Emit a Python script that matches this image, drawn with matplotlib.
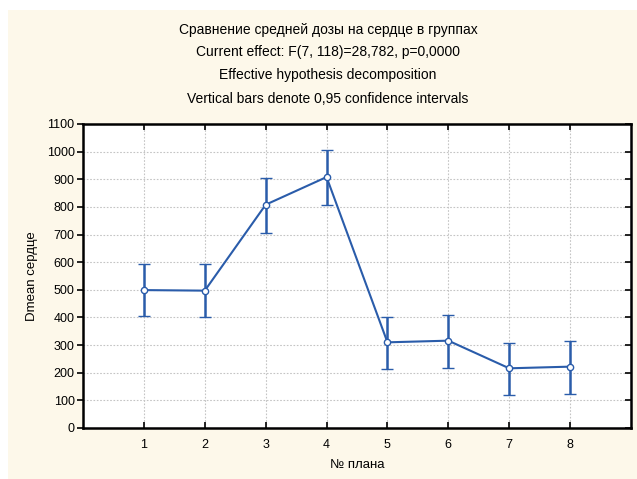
import matplotlib
matplotlib.use("Agg")
import matplotlib.pyplot as plt
from matplotlib.patches import Rectangle
import numpy as np

plt.rcParams['font.family'] = ['Liberation Sans', 'DejaVu Sans']

plans = [1, 2, 3, 4, 5, 6, 7, 8]
means = [499, 497, 808, 908, 310, 316, 216, 222]
lower = [404, 401, 707, 808, 213, 218, 119, 124]
upper = [593, 592, 905, 1005, 402, 409, 309, 316]

titles = [
    "Сравнение средней дозы на сердце в группах",
    "Current effect: F(7, 118)=28,782, p=0,0000",
    "Effective hypothesis decomposition",
    "Vertical bars denote 0,95 confidence intervals",
]

W, H = 637, 479
fig = plt.figure(figsize=(W / 100, H / 100), dpi=100)
fig.patch.set_facecolor("white")
fig.patches.append(Rectangle((8 / W, 0), 1, (H - 10) / H, transform=fig.transFigure,
                             facecolor="#fdf8ea", edgecolor="none", zorder=-10))

ax = fig.add_axes([83 / W, (H - 428) / H, (631 - 83) / W, (428 - 124) / H])
ax.set_facecolor("white")

m = np.array(means)
yerr = [m - np.array(lower), np.array(upper) - m]
blue = "#2a5caa"
ax.errorbar(plans, means, yerr=yerr, color=blue, lw=1.5, elinewidth=1.8,
            capsize=4.5, capthick=1.8, marker="o", markersize=4.5,
            markerfacecolor="white", markeredgecolor=blue, markeredgewidth=1.0,
            zorder=3)

ax.set_xlim(0, 9)
ax.set_ylim(0, 1100)
ax.set_xticks(plans)
ax.set_yticks(range(0, 1101, 100))
ax.grid(True, color="#c4c4c4", linestyle=(0, (1.5, 1.5)), linewidth=0.8)
ax.set_axisbelow(True)

for s in ax.spines.values():
    s.set_linewidth(1.8)
    s.set_color("black")

ax.tick_params(axis="x", direction="in", top=True, length=4, width=1.2,
               labelsize=9, pad=8)
ax.tick_params(axis="y", direction="out", length=4, width=1.2, labelsize=9, pad=2)
ax.tick_params(axis="y", which="both", right=True)
for t in ax.yaxis.get_ticklines()[1::2]:
    t.set_marker(matplotlib.lines.TICKLEFT)

ax.set_xlabel("№ плана", fontsize=9.5, labelpad=6)
ax.set_ylabel("Dmean сердце", fontsize=9.5, labelpad=6)

ys = [30, 52, 75, 99]
for t, y in zip(titles, ys):
    fig.text(328 / W, 1 - y / H, t, ha="center", va="center", fontsize=10)

fig.savefig("out.png", dpi=100)
